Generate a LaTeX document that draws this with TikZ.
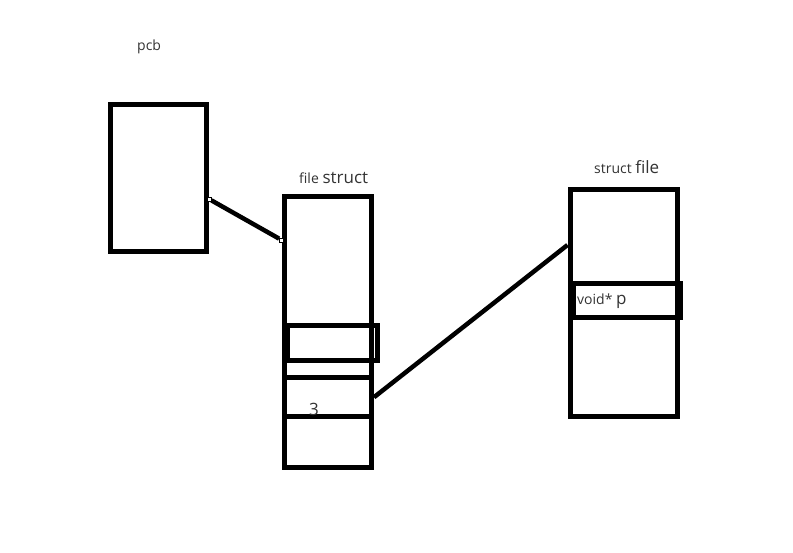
\documentclass[tikz,border=0pt]{standalone}
\usepackage{fontspec}
\setmainfont{Open Sans}
\newcommand{\smalltxt}{\fontsize{14}{16}\selectfont}
\newcommand{\bigtxt}{\fontsize{17}{19}\selectfont}
\tikzset{
  box/.style 2 args={draw, line width=5pt, inner sep=0pt, minimum width=#1, minimum height=#2},
  port/.style={draw, fill=white, line width=0.8pt, inner sep=0pt, minimum size=4pt},
  link/.style={line width=4.5pt},
}
\begin{document}
\begin{tikzpicture}[x=1pt, y=-1pt, every node/.style={font=\smalltxt, text=black!80}]
  \useasboundingbox (0,0) rectangle (793,553);
  \node[anchor=base west, inner sep=0pt] (pcblbl) at (137,51) {pcb};
  \node[box={96}{147}] (pcb) at (158.5,178) {};
  % file struct
  \node[box={87.5}{270.5}] (fs) at (327.75,332.25) {};
  \node[box={90}{35}] (fsfield) at (332,343) {};
  \node[box={87.5}{39.5}] (fsslot) at (327.75,397.25) {};
  \node[font=\bigtxt, inner sep=0pt] (three) at (314,409) {3};
  \node[anchor=base west, inner sep=0pt] (fslbl) at (299,184) {file {\bigtxt struct}};
  % struct file
  \node[box={107.5}{227}] (sf) at (623.75,303.5) {};
  \node[box={106.5}{34.5}] (sfp) at (626.75,300.75) {};
  \node[anchor=base west, inner sep=0pt] (sfplbl) at (577,305) {void* {\bigtxt p}};
  \node[anchor=base west, inner sep=0pt] (sflbl) at (594,174) {struct {\bigtxt file}};
  % links
  \node[port] (pcbport) at ([yshift=-21pt]pcb.east) {};
  \node[port] (fsport) at ([yshift=92.25pt]fs.west) {};
  \coordinate (sfport) at ([yshift=58.5pt]sf.west);
  \draw[link] (pcbport) -- (fsport);
  \draw[link] (fsslot.east) -- (sfport);
\end{tikzpicture}
\end{document}
